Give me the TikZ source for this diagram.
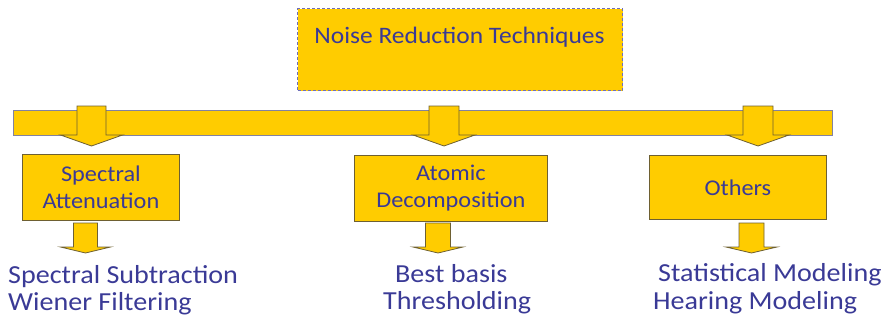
\documentclass[tikz,border=0pt]{standalone}
\usepackage{fontspec}
\setmainfont{Carlito}[FakeStretch=1.08]
\definecolor{fillyel}{RGB}{255,204,0}
\definecolor{txtblue}{RGB}{58,58,150}
\definecolor{boxline}{RGB}{110,96,50}
\definecolor{barline}{RGB}{130,130,160}
\definecolor{dashline}{RGB}{110,110,185}
\newcommand\blkarrow[6]{%
  \draw[arrowbody] ({#1-#5},#2) -- ({#1+#5},#2) -- ({#1+#5},#3) -- ({#1+#6},#3)
    -- (#1,#4) -- ({#1-#6},#3) -- ({#1-#5},#3) -- cycle;}
\tikzset{
  arrowbody/.style={fill=fillyel, draw=boxline, line width=0.8pt, line join=miter},
  catbox/.style={rectangle, fill=fillyel, draw=boxline, line width=0.8pt, anchor=north west,
    inner sep=0pt, align=center, text=txtblue, font=\fontsize{22.5}{27}\selectfont},
  leaf/.style={anchor=base west, inner sep=0pt, text=txtblue, font=\fontsize{26}{28}\selectfont},
}
\begin{document}
\begin{tikzpicture}[x=1pt,y=-1pt]
\useasboundingbox (0,0) rectangle (888,322);
% title box
\node[rectangle, fill=fillyel, draw=dashline, dash pattern=on 3pt off 2pt, line width=1pt, anchor=north west,
  minimum width=325pt, minimum height=82pt, inner sep=0pt] (title) at (297,8) {};
\node[anchor=base, inner sep=0pt, text=txtblue, font=\fontsize{23.6}{28}\selectfont]
  (titletext) at (459.5,43) {Noise Reduction Techniques};
% bar
\node[rectangle, fill=fillyel, draw=barline, line width=0.8pt, anchor=north west,
  minimum width=819pt, minimum height=25pt, inner sep=0pt] (bar) at (13,110) {};
% down arrows from bar
\blkarrow{91.5}{106}{135}{146}{14.5}{31}
\blkarrow{444}{106}{135}{146}{15}{31}
\blkarrow{758}{106}{135}{146}{15}{31}
% category boxes
\node[catbox, minimum width=157pt, minimum height=66pt] (spec) at (22,154) {Spectral\\Attenuation};
\node[catbox, minimum width=193pt, minimum height=66pt] (atom) at (354,155) {Atomic\\Decomposition};
\node[catbox, minimum width=177pt, minimum height=64pt] (oth) at (649,155) {Others};
% lower arrows
\blkarrow{85.5}{223}{247}{253}{12}{25}
\blkarrow{438}{223}{247}{253}{12.5}{25}
\blkarrow{751.5}{223}{247}{253}{12.5}{25.5}
% leaves
\node[leaf] (l1) at (8,283) {Spectral Subtraction};
\node[leaf] (l2) at (8,310) {Wiener Filtering};
\node[leaf] (m1) at (395,282) {Best basis};
\node[leaf] (m2) at (383,309) {Thresholding};
\node[leaf] (r1) at (658,281) {Statistical Modeling};
\node[leaf] (r2) at (653,309) {Hearing Modeling};
\end{tikzpicture}
\end{document}
